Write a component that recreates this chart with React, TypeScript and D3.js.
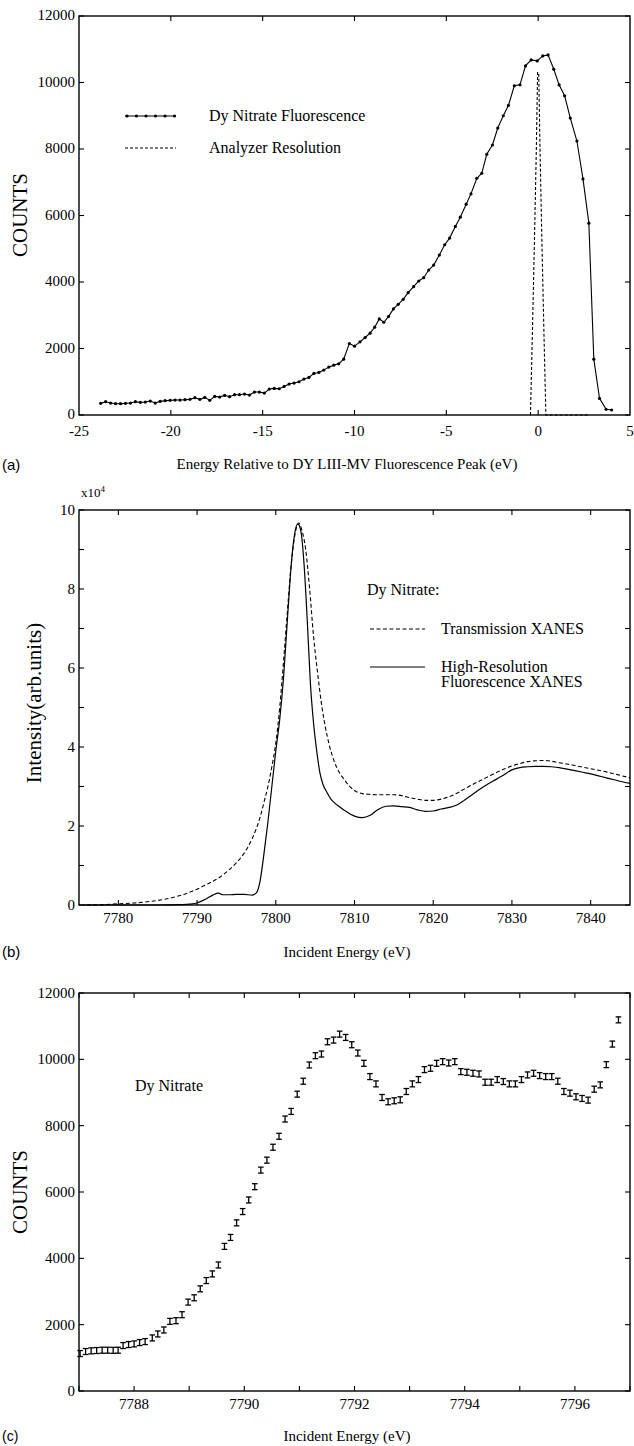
import React from "react";
import * as d3 from "d3";

// ---------- Panel (a): Dy nitrate fluorescence vs relative energy ----------
const aEnergy = [
  -23.82, -23.55, -23.28, -23.01, -22.74, -22.47, -22.2, -21.93, -21.66, -21.39,
  -21.12, -20.85, -20.58, -20.31, -20.04, -19.77, -19.5, -19.23, -18.96, -18.69,
  -18.42, -18.15, -17.88, -17.61, -17.34, -17.07, -16.8, -16.53, -16.26, -15.99,
  -15.72, -15.45, -15.18, -14.91, -14.64, -14.37, -14.1, -13.83, -13.56, -13.29,
  -13.02, -12.75, -12.48, -12.21, -11.94, -11.67, -11.4, -11.13, -10.86, -10.59,
  -10.28, -10.0, -9.7, -9.42, -9.15, -8.9, -8.65, -8.4, -8.15, -7.88,
  -7.62, -7.35, -7.08, -6.78, -6.5, -6.23, -5.96, -5.69, -5.38, -5.09,
  -4.82, -4.51, -4.24, -3.92, -3.66, -3.34, -3.07, -2.8, -2.49, -2.2,
  -1.9, -1.62, -1.3, -0.99, -0.69, -0.38, -0.05, 0.25, 0.54, 0.85,
  1.14, 1.44, 1.75, 2.11, 2.44, 2.76, 3.03, 3.34, 3.7, 4.0,
];
const aCounts = [
  350, 400, 360, 340, 340, 350, 360, 400, 380, 390,
  420, 360, 410, 430, 440, 450, 450, 460, 470, 520,
  470, 530, 440, 560, 540, 590, 550, 610, 610, 630,
  600, 690, 690, 660, 780, 800, 790, 860, 930, 960,
  1000, 1080, 1130, 1250, 1280, 1350, 1440, 1500, 1540, 1680,
  2150, 2070, 2200, 2330, 2460, 2640, 2890, 2790, 2960, 3190,
  3330, 3480, 3680, 3860, 4030, 4130, 4360, 4510, 4810, 5120,
  5320, 5670, 5950, 6340, 6650, 7120, 7270, 7840, 8120, 8630,
  9000, 9310, 9900, 9930, 10500, 10680, 10650, 10800, 10830, 10400,
  9930, 9600, 8930, 8240, 7100, 5770, 1680, 500, 170, 150,
];
const aResEnergy = [-0.42, -0.3, -0.2, -0.1, -0.03, 0.03, 0.1, 0.2, 0.3, 0.42, 2.8];
const aResCounts = [0, 2800, 5300, 8000, 10300, 10300, 8000, 5300, 2800, 0, 0];
const aXTicks = [-25, -20, -15, -10, -5, 0, 5];
const aYTicks = [0, 2000, 4000, 6000, 8000, 10000, 12000];

// ---------- Panel (b): XANES ----------
const bFluorEnergy = [
  7775.5, 7780, 7785, 7788, 7789, 7790, 7791, 7792, 7792.7, 7793.3,
  7794, 7795, 7796, 7797, 7797.5, 7798, 7798.5, 7799, 7799.5, 7800,
  7800.5, 7801, 7801.5, 7802, 7802.4, 7802.8, 7803.2, 7803.6, 7804, 7804.4,
  7804.8, 7805.2, 7805.6, 7806, 7806.5, 7807, 7807.5, 7808, 7809, 7810,
  7811, 7812, 7813, 7814, 7815, 7816, 7817, 7818, 7819, 7820,
  7821, 7822, 7823, 7824, 7825, 7826, 7827, 7828, 7829, 7830,
  7831, 7832, 7833, 7834, 7835, 7836, 7837, 7838, 7839, 7840,
  7841, 7842, 7843, 7844, 7845,
];
const bFluorIntensity = [
  0, 0, 0, 0.01, 0.02, 0.05, 0.14, 0.25, 0.3, 0.26,
  0.26, 0.27, 0.27, 0.25, 0.3, 0.6, 1.3, 2.1, 3.0, 3.9,
  4.7, 5.8, 7.3, 8.7, 9.4, 9.65, 9.45, 8.6, 7.2, 5.6,
  4.6, 3.9, 3.35, 3.05, 2.85, 2.68, 2.58, 2.5, 2.36, 2.25,
  2.21, 2.27, 2.42, 2.5, 2.51, 2.49, 2.47, 2.41, 2.37, 2.38,
  2.43, 2.47, 2.53, 2.66, 2.8, 2.94, 3.07, 3.18, 3.3, 3.42,
  3.48, 3.5, 3.51, 3.51, 3.5, 3.48, 3.44, 3.4, 3.36, 3.32,
  3.27, 3.22, 3.17, 3.12, 3.08,
];
const bTransEnergy = [
  7776, 7778, 7780, 7782, 7784, 7786, 7788, 7790, 7791, 7792,
  7793, 7794, 7795, 7796, 7797, 7798, 7798.5, 7799, 7799.5, 7800,
  7800.5, 7801, 7801.5, 7802, 7802.5, 7802.9, 7803.3, 7803.8, 7804.3, 7804.8,
  7805.3, 7805.8, 7806.3, 7806.8, 7807.4, 7808, 7808.6, 7809.3, 7810, 7811,
  7812, 7813, 7814, 7815, 7816, 7817, 7818, 7819, 7820, 7821,
  7822, 7823, 7824, 7825, 7826, 7827, 7828, 7829, 7830, 7831,
  7832, 7833, 7834, 7835, 7836, 7837, 7838, 7839, 7840, 7841,
  7842, 7843, 7844, 7845,
];
const bTransIntensity = [
  0, 0.01, 0.03, 0.05, 0.09, 0.15, 0.25, 0.4, 0.5, 0.6,
  0.72, 0.88, 1.07, 1.32, 1.68, 2.22, 2.6, 3.0, 3.5, 4.1,
  5.0, 6.2, 7.5, 8.7, 9.45, 9.67, 9.5, 9.0, 8.0, 6.8,
  5.9, 5.1, 4.5, 4.05, 3.65, 3.38, 3.2, 3.02, 2.9, 2.82,
  2.8, 2.79, 2.79, 2.79, 2.77, 2.72, 2.68, 2.65, 2.65, 2.68,
  2.74, 2.83, 2.94, 3.05, 3.15, 3.25, 3.35, 3.44, 3.52, 3.58,
  3.63, 3.65, 3.66, 3.64, 3.6, 3.57, 3.53, 3.49, 3.45, 3.41,
  3.37, 3.32, 3.27, 3.22,
];
const bXTicks = [7780, 7790, 7800, 7810, 7820, 7830, 7840];
const bYTicks = [0, 1, 2, 3, 4, 5, 6, 7, 8, 9, 10];
const bYLabels = [0, 2, 4, 6, 8, 10];

// ---------- Panel (c): high resolution fluorescence excitation ----------
const cEnergy = [
  7787.02, 7787.12, 7787.22, 7787.32, 7787.42, 7787.52, 7787.62, 7787.71, 7787.8, 7787.9,
  7788.0, 7788.1, 7788.2, 7788.33, 7788.43, 7788.54, 7788.65, 7788.76, 7788.87, 7788.98,
  7789.09, 7789.2, 7789.31, 7789.42, 7789.53, 7789.64, 7789.75, 7789.86, 7789.97, 7790.08,
  7790.19, 7790.3, 7790.41, 7790.52, 7790.63, 7790.74, 7790.85, 7790.96, 7791.07, 7791.18,
  7791.29, 7791.4, 7791.51, 7791.62, 7791.73, 7791.84, 7791.95, 7792.06, 7792.17, 7792.28,
  7792.39, 7792.5, 7792.61, 7792.72, 7792.83, 7792.94, 7793.05, 7793.16, 7793.27, 7793.38,
  7793.49, 7793.6, 7793.71, 7793.82, 7793.93, 7794.04, 7794.15, 7794.26, 7794.37, 7794.48,
  7794.59, 7794.7, 7794.81, 7794.92, 7795.03, 7795.14, 7795.25, 7795.36, 7795.47, 7795.58,
  7795.69, 7795.8, 7795.91, 7796.02, 7796.13, 7796.24, 7796.35, 7796.46, 7796.57, 7796.68,
  7796.79,
];
const cCounts = [
  1130, 1190, 1210, 1220, 1230, 1230, 1225, 1230, 1370, 1400,
  1420, 1460, 1490, 1600, 1720, 1840, 2100, 2120, 2300, 2680,
  2810, 3080, 3330, 3530, 3800, 4360, 4630, 5070, 5410, 5760,
  6160, 6660, 6960, 7350, 7680, 8200, 8430, 8950, 9340, 9830,
  10110, 10160, 10530, 10580, 10760, 10660, 10440, 10190, 9880, 9480,
  9260, 8850, 8720, 8750, 8780, 9030, 9260, 9390, 9690, 9730,
  9880, 9930, 9890, 9930, 9630, 9610, 9580, 9560, 9310, 9310,
  9390, 9330, 9260, 9260, 9390, 9530, 9580, 9510, 9480, 9480,
  9340, 9030, 8980, 8870, 8820, 8770, 9100, 9230, 9840, 10460,
  11190,
];
const cErr = 90;
const cXTicks = [7787, 7788, 7789, 7790, 7791, 7792, 7793, 7794, 7795, 7796, 7797];
const cXLabels = [7788, 7790, 7792, 7794, 7796];
const cYTicks = [0, 2000, 4000, 6000, 8000, 10000, 12000];

const SERIF = "'Liberation Serif', 'Times New Roman', serif";
const SANS = "'Liberation Sans', Arial, sans-serif";

type FrameProps = {
  x: d3.ScaleLinear<number, number>;
  y: d3.ScaleLinear<number, number>;
  xTicks: number[];
  xLabels: number[];
  yTicks: number[];
  yLabels: number[];
  tick?: number;
  xLabelGap?: number;
  yLabelDy?: number;
};

function Frame({ x, y, xTicks, xLabels, yTicks, yLabels, tick = 5, xLabelGap = 18, yLabelDy = 5 }: FrameProps) {
  const [x0, x1] = x.range();
  const [yb, yt] = y.range();
  return (
    <g>
      <rect x={x0} y={yt} width={x1 - x0} height={yb - yt} fill="none" stroke="#000" strokeWidth={1.4} />
      {xTicks.map((t) => (
        <g key={"xt" + t}>
          <line x1={x(t)} x2={x(t)} y1={yb} y2={yb - tick} stroke="#000" strokeWidth={1.1} />
          <line x1={x(t)} x2={x(t)} y1={yt} y2={yt + tick} stroke="#000" strokeWidth={1.1} />
        </g>
      ))}
      {yTicks.map((t) => (
        <g key={"yt" + t}>
          <line x1={x0} x2={x0 + tick} y1={y(t)} y2={y(t)} stroke="#000" strokeWidth={1.1} />
          <line x1={x1} x2={x1 - tick} y1={y(t)} y2={y(t)} stroke="#000" strokeWidth={1.1} />
        </g>
      ))}
      {xLabels.map((t) => (
        <text key={"xl" + t} x={x(t)} y={yb + xLabelGap} textAnchor="middle" fontFamily={SERIF} fontSize={15}>
          {String(t)}
        </text>
      ))}
      {yLabels.map((t) => (
        <text key={"yl" + t} x={x0 - 4} y={y(t) + yLabelDy} textAnchor="end" fontFamily={SERIF} fontSize={15}>
          {String(t)}
        </text>
      ))}
    </g>
  );
}

export default function App() {
  const W = 634;
  const H = 1446;
  const L = 79;
  const R = 630;

  // Panel a
  const ax = d3.scaleLinear().domain([-25, 5]).range([L, R]);
  const ay = d3.scaleLinear().domain([0, 12000]).range([415, 16]);
  const aPts = aEnergy.map((e, i) => [e, aCounts[i]] as [number, number]);
  const aLine = d3.line<[number, number]>().x((d) => ax(d[0])).y((d) => ay(d[1]));
  const aRes = aResEnergy.map((e, i) => [e, aResCounts[i]] as [number, number]);

  // Panel b
  const bx = d3.scaleLinear().domain([7775, 7845]).range([L, R]);
  const by = d3.scaleLinear().domain([0, 10]).range([905, 510]);
  const bLine = d3
    .line<[number, number]>()
    .x((d) => bx(d[0]))
    .y((d) => by(d[1]))
    .curve(d3.curveMonotoneX);
  const bFl = bFluorEnergy.map((e, i) => [e, bFluorIntensity[i]] as [number, number]);
  const bTr = bTransEnergy.map((e, i) => [e, bTransIntensity[i]] as [number, number]);

  // Panel c
  const cx = d3.scaleLinear().domain([7787, 7797]).range([L, R]);
  const cy = d3.scaleLinear().domain([0, 12000]).range([1391, 993]);

  return (
    <svg width={W} height={H} style={{ position: "absolute", left: 0, top: 0, background: "#fff" }}>
      <rect x={0} y={0} width={W} height={H} fill="#fff" />

      {/* ----- Panel a ----- */}
      <Frame
        x={ax}
        y={ay}
        xTicks={[-20, -15, -10, -5, 0]}
        xLabels={aXTicks}
        yTicks={aYTicks}
        yLabels={aYTicks}
        xLabelGap={21}
        yLabelDy={4}
      />
      <path d={aLine(aRes) || ""} fill="none" stroke="#000" strokeWidth={1.1} strokeDasharray="3,2" />
      <path d={aLine(aPts) || ""} fill="none" stroke="#000" strokeWidth={1.1} />
      {aPts.map((d, i) => (
        <circle key={"ap" + i} cx={ax(d[0])} cy={ay(d[1])} r={1.6} fill="#000" />
      ))}
      {/* legend a */}
      <line x1={125} x2={176} y1={116} y2={116} stroke="#000" strokeWidth={1.1} />
      {[127, 136.5, 146, 155.5, 165, 174.5].map((px, i) => (
        <circle key={"lg" + i} cx={px} cy={116} r={1.6} fill="#000" />
      ))}
      <text x={209} y={121} fontFamily={SERIF} fontSize={16}>Dy Nitrate Fluorescence</text>
      <line x1={125} x2={176} y1={148} y2={148} stroke="#000" strokeWidth={1.1} strokeDasharray="3,2" />
      <text x={209} y={153} fontFamily={SERIF} fontSize={16}>Analyzer Resolution</text>
      <text transform="translate(27,215) rotate(-90)" textAnchor="middle" fontFamily={SERIF} fontSize={21}>COUNTS</text>
      <text x={2} y={470} fontFamily={SANS} fontSize={15}>(a)</text>
      <text x={347} y={469} textAnchor="middle" fontFamily={SERIF} fontSize={15}>
        Energy Relative to DY LIII-MV Fluorescence Peak (eV)
      </text>

      {/* ----- Panel b ----- */}
      <Frame x={bx} y={by} xTicks={bXTicks} xLabels={bXTicks} yTicks={bYTicks} yLabels={bYLabels} />
      <path d={bLine(bTr) || ""} fill="none" stroke="#000" strokeWidth={1.1} strokeDasharray="4,2.5" />
      <path d={bLine(bFl) || ""} fill="none" stroke="#000" strokeWidth={1.2} />
      <text x={81} y={497} fontFamily={SERIF} fontSize={13}>
        x10<tspan dy={-5} fontSize={9}>4</tspan>
      </text>
      <text x={367} y={595} fontFamily={SERIF} fontSize={16}>Dy Nitrate:</text>
      <line x1={370} x2={425} y1={629} y2={629} stroke="#000" strokeWidth={1.1} strokeDasharray="4,2.5" />
      <text x={441} y={634} fontFamily={SERIF} fontSize={16}>Transmission XANES</text>
      <line x1={370} x2={425} y1={667} y2={667} stroke="#000" strokeWidth={1.2} />
      <text x={441} y={672} fontFamily={SERIF} fontSize={16}>High-Resolution</text>
      <text x={441} y={687} fontFamily={SERIF} fontSize={16}>Fluorescence XANES</text>
      <text transform="translate(41,703) rotate(-90)" textAnchor="middle" fontFamily={SERIF} fontSize={21}>
        Intensity(arb.units)
      </text>
      <text x={2} y={957} fontFamily={SANS} fontSize={15}>(b)</text>
      <text x={347} y={957} textAnchor="middle" fontFamily={SERIF} fontSize={15}>Incident Energy (eV)</text>

      {/* ----- Panel c ----- */}
      <Frame x={cx} y={cy} xTicks={cXTicks} xLabels={cXLabels} yTicks={cYTicks} yLabels={cYTicks} />
      {cEnergy.map((e, i) => {
        const px = cx(e);
        const top = cy(cCounts[i] + cErr);
        const bot = cy(cCounts[i] - cErr);
        return (
          <g key={"ce" + i} stroke="#000" strokeWidth={1.3}>
            <line x1={px} x2={px} y1={top} y2={bot} />
            <line x1={px - 2.8} x2={px + 2.8} y1={top} y2={top} />
            <line x1={px - 2.8} x2={px + 2.8} y1={bot} y2={bot} />
          </g>
        );
      })}
      <text x={135} y={1091} fontFamily={SERIF} fontSize={16}>Dy Nitrate</text>
      <text transform="translate(27,1192) rotate(-90)" textAnchor="middle" fontFamily={SERIF} fontSize={21}>COUNTS</text>
      <text x={2} y={1441} fontFamily={SANS} fontSize={14}>(c)</text>
      <text x={347} y={1441} textAnchor="middle" fontFamily={SERIF} fontSize={15}>Incident Energy (eV)</text>
    </svg>
  );
}
